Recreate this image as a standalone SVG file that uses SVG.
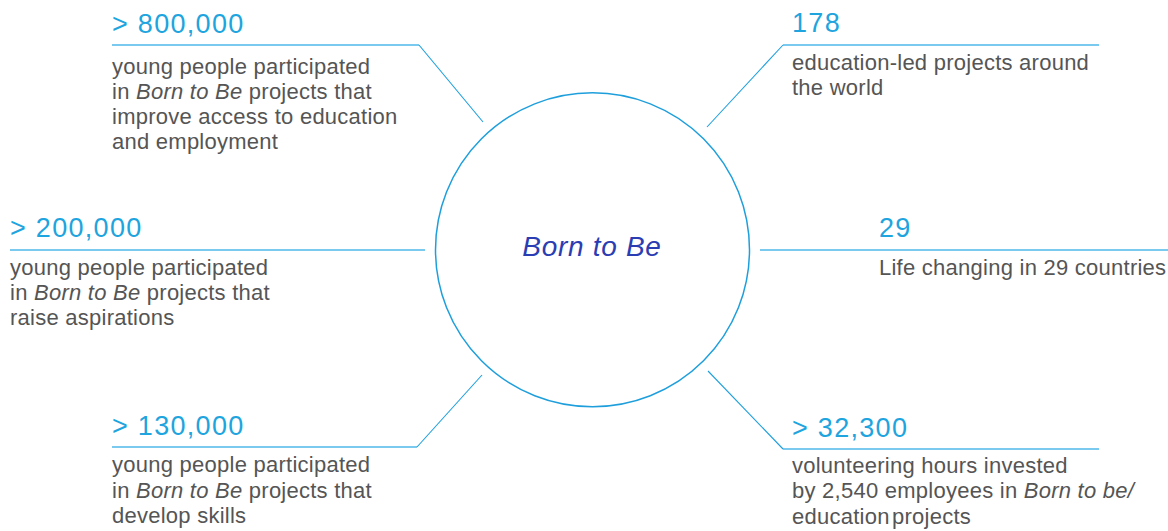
<svg xmlns="http://www.w3.org/2000/svg" width="1168" height="531" viewBox="0 0 1168 531">
<style>
.num{font-family:"Liberation Sans",Arial,sans-serif;font-size:27px;letter-spacing:1.3px;fill:#1ea4de}
.body{font-family:"Liberation Sans",Arial,sans-serif;font-size:22px;letter-spacing:0.25px;fill:#555555}
.it{font-style:italic}
.rule{stroke:#4cb8e8;stroke-width:1.5;fill:none}
.diag{stroke:#1e9fdc;stroke-width:1.1;fill:none}
.title{font-family:"Liberation Sans",Arial,sans-serif;font-size:28px;font-style:italic;fill:#2b3db2;letter-spacing:0.7px}
</style>
<rect width="1168" height="531" fill="#ffffff"/>
<g id="connectors">
<line class="rule" x1="112" y1="45" x2="419" y2="45"/>
<line class="diag" x1="419" y1="45" x2="483" y2="122"/>
<line class="rule" x1="783" y1="45" x2="1099" y2="45"/>
<line class="diag" x1="783" y1="45" x2="707" y2="127"/>
<line class="rule" x1="10" y1="250" x2="425" y2="250"/>
<line class="rule" x1="760" y1="250" x2="1168" y2="250"/>
<line class="rule" x1="112" y1="447" x2="417" y2="447"/>
<line class="diag" x1="417" y1="447" x2="482" y2="375"/>
<line class="rule" x1="783" y1="449" x2="1099" y2="449"/>
<line class="diag" x1="783" y1="449" x2="708" y2="371"/>
</g>
<g id="center">
<circle cx="592.5" cy="249.8" r="157" fill="none" stroke="#1e9fdc" stroke-width="1.5"/>
<text class="title" x="592" y="256" text-anchor="middle">Born to Be</text>
</g>
<g id="stat-800000">
<text class="num" x="112" y="33">&gt; 800,000</text>
<text class="body" x="112" y="74">young people participated</text>
<text class="body" x="112" y="99">in <tspan class="it">Born to Be</tspan> projects that</text>
<text class="body" x="112" y="124">improve access to education</text>
<text class="body" x="112" y="149">and employment</text>
</g>
<g id="stat-178">
<text class="num" x="792" y="32">178</text>
<text class="body" x="792" y="70">education-led projects around</text>
<text class="body" x="792" y="95">the world</text>
</g>
<g id="stat-200000">
<text class="num" x="10" y="237">&gt; 200,000</text>
<text class="body" x="10" y="275">young people participated</text>
<text class="body" x="10" y="300">in <tspan class="it">Born to Be</tspan> projects that</text>
<text class="body" x="10" y="325">raise aspirations</text>
</g>
<g id="stat-29">
<text class="num" x="879" y="237">29</text>
<text class="body" x="879" y="275">Life changing in 29 countries</text>
</g>
<g id="stat-130000">
<text class="num" x="112" y="435">&gt; 130,000</text>
<text class="body" x="112" y="472">young people participated</text>
<text class="body" x="112" y="498">in <tspan class="it">Born to Be</tspan> projects that</text>
<text class="body" x="112" y="523">develop skills</text>
</g>
<g id="stat-32300">
<text class="num" x="792" y="437">&gt; 32,300</text>
<text class="body" x="792" y="473">volunteering hours invested</text>
<text class="body" x="792" y="498">by 2,540 employees in <tspan class="it">Born to be/</tspan></text>
<text class="body" x="792" y="524" word-spacing="-4">education projects</text>
</g>
</svg>
